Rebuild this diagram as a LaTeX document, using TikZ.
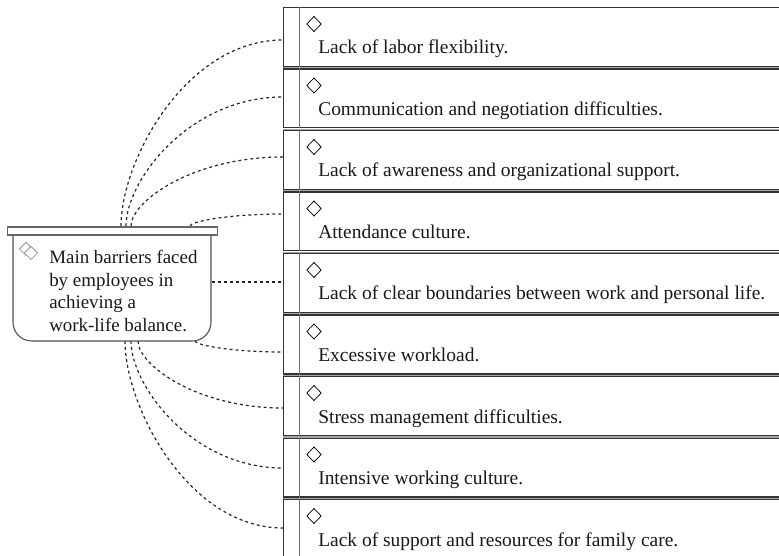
\documentclass[tikz,border=0pt]{standalone}
\usepackage{fontspec}
\setmainfont{Liberation Serif}
\usetikzlibrary{shapes.geometric,calc}
\definecolor{boxline}{HTML}{333333}
\definecolor{mainline}{HTML}{505050}
\definecolor{colline}{HTML}{707070}
\tikzset{
  itembox/.style={draw=boxline, line width=0.8pt, fill=white, anchor=north west,
    minimum width=390pt, minimum height=44.2pt, inner sep=0pt},
  shadowline/.style={draw=gray!70, line width=0.8pt},
  colsep/.style={draw=colline, line width=0.7pt},
  dia/.style={draw=black, diamond, line width=0.55pt, minimum width=11pt, minimum height=11.5pt, inner sep=0pt},
  itemtext/.style={anchor=base west, inner sep=0pt, font=\fontsize{14.6pt}{17pt}\selectfont, text=black!90},
  maintext/.style={anchor=north west, inner sep=0pt, align=left, font=\fontsize{14.2pt}{16.9pt}\selectfont, text=black!90},
  conn/.style={draw=black!85, line width=0.9pt, dash pattern=on 2.2pt off 2.3pt},
  mainbox/.style={draw=mainline, line width=0.8pt, fill=white},
  icon/.style={draw=gray, diamond, line width=0.5pt, minimum width=10pt, minimum height=10pt, inner sep=0pt, fill=white},
}
\begin{document}
\begin{tikzpicture}[x=0.75pt,y=-0.75pt]
\useasboundingbox (0,0) rectangle (779,556);
\fill[white] (0,0) rectangle (779,556);

% start / end coordinates of connectors
\coordinate (s1) at (121,226);
\coordinate (s2) at (126,226);
\coordinate (s3) at (131,226);
\coordinate (s4) at (190,226);
\coordinate (s5) at (212,282);
\coordinate (s6) at (195,341);
\coordinate (s7) at (138,341);
\coordinate (s8) at (131,341);
\coordinate (s9) at (125,341);

% connectors
\foreach \i/\sx/\sy/\ey in {1/121/226/40, 2/126/226/97, 3/131/226/157, 4/190/226/214,
                            6/195/341/352, 7/138/341/408, 8/131/341/468, 9/125/341/528}{
  \coordinate (e\i) at (283,\ey);
  \pgfmathsetmacro{\ay}{\sy-0.35*(\sy-\ey)}
  \pgfmathsetmacro{\bx}{\sx+0.4*(283-\sx)}
  \draw[conn] (s\i) .. controls (\sx,\ay) and (\bx,\ey) .. (e\i);
}
\coordinate (e5) at (283,282);
\draw[conn] (s5) -- (e5);

% main box
\draw[mainbox, rounded corners=14pt] (13,234) -- (13,341) -- (211,341) -- (211,234);
\node[mainbox, rectangle, draw=gray!80!black, minimum width=157.5pt, minimum height=6pt, inner sep=0pt, anchor=north west] (bar) at (7,226.5) {};
\node[icon] (ic1) at (26,249) {};
\node[icon] (ic2) at (31,253) {};
\node[maintext] (mtext) at (49,250) {Main barriers faced\\by employees in\\achieving a\\work-life balance.};

% item boxes
\foreach \i/\t in {1/{Lack of labor flexibility.},
                   2/{Communication and negotiation difficulties.},
                   3/{Lack of awareness and organizational support.},
                   4/{Attendance culture.},
                   5/{Lack of clear boundaries between work and personal life.},
                   6/{Excessive workload.},
                   7/{Stress management difficulties.},
                   8/{Intensive working culture.},
                   9/{Lack of support and resources for family care.}}{
  \pgfmathsetmacro{\top}{7+61.5*(\i-1)}
  \draw[shadowline] (283,\top+61) -- (790,\top+61);
  \node[itembox] (b\i) at (283,\top) {};
  \draw[colsep] ([xshift=12pt]b\i.north west) -- ([xshift=12pt]b\i.south west);
  \node[dia] (d\i) at (314,\top+17) {};
  \node[itemtext] (t\i) at (318,\top+47) {\t};
}
\end{tikzpicture}
\end{document}
